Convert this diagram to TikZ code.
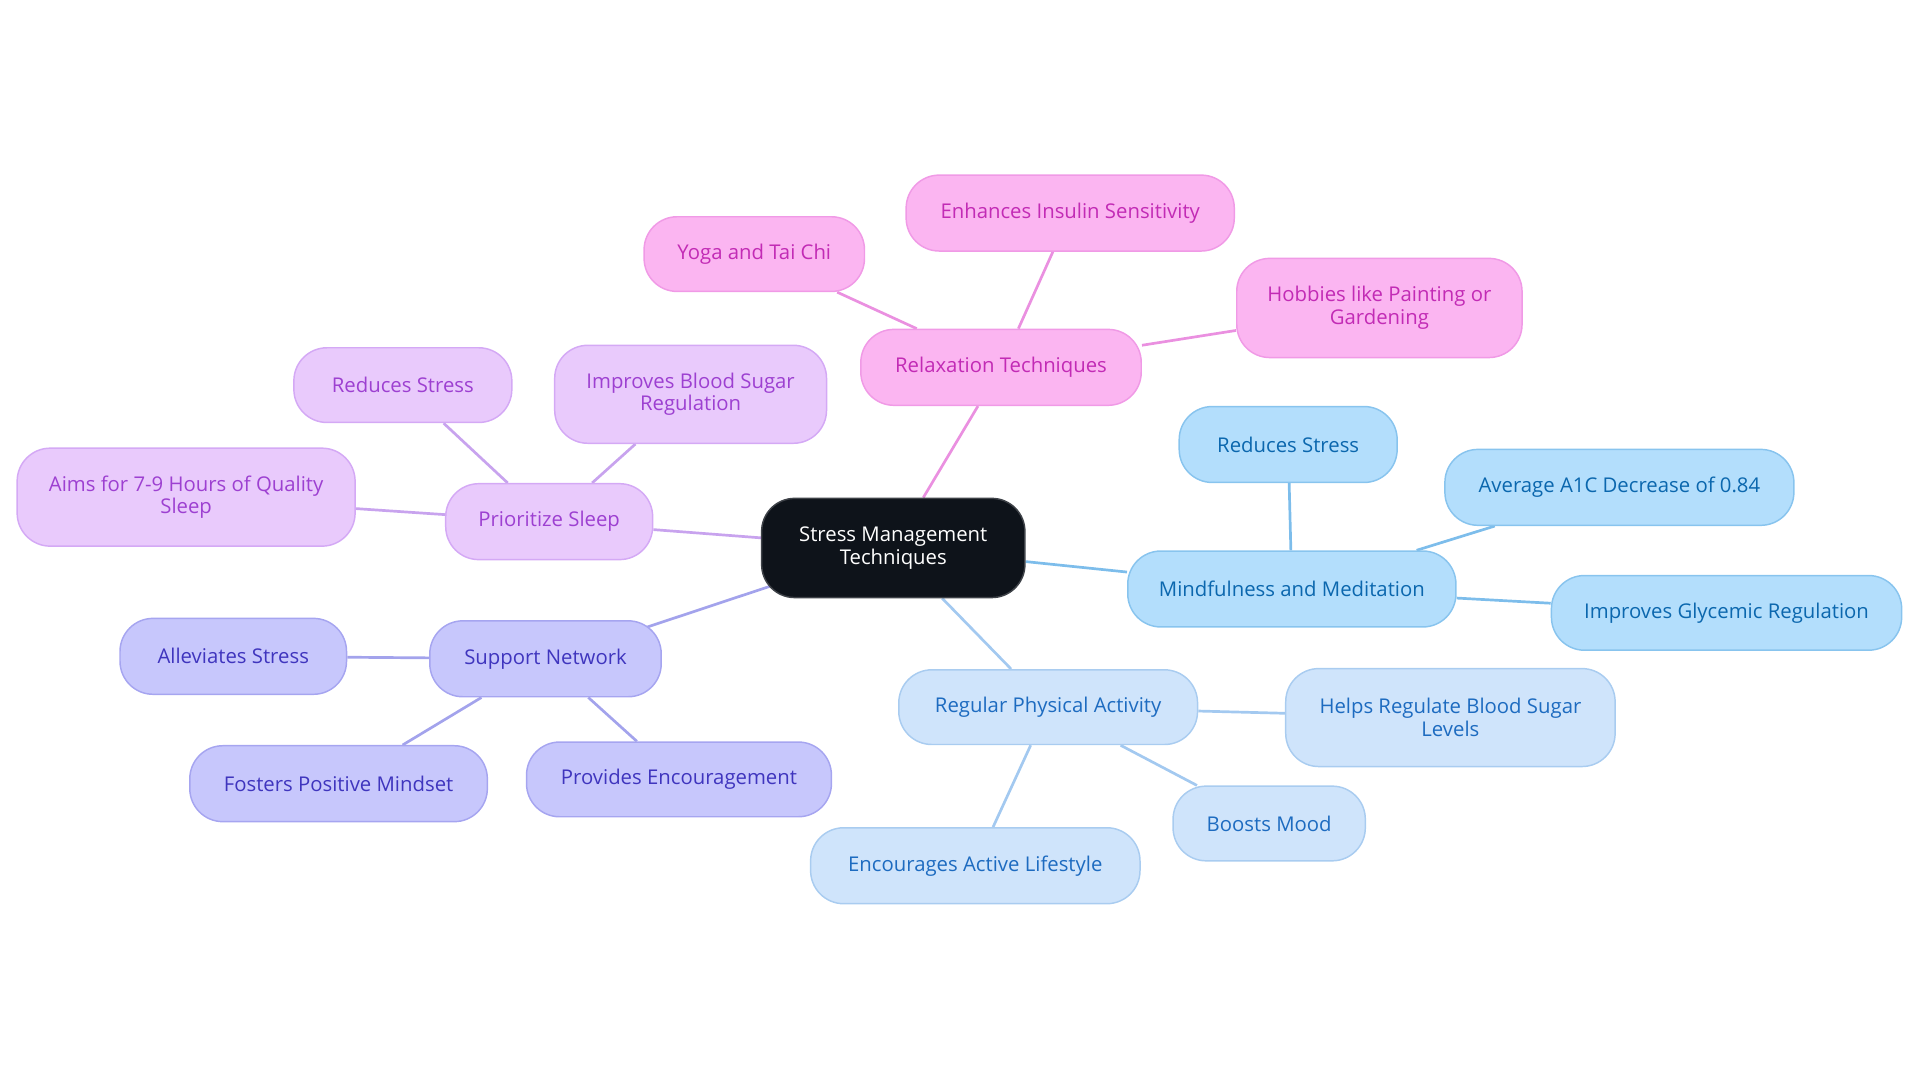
\documentclass[tikz,border=0pt]{standalone}
\usepackage{fontspec}
\setmainfont{Open Sans}
\usetikzlibrary{backgrounds}
\definecolor{pkF}{HTML}{FBB5F1}\definecolor{pkD}{HTML}{F09AE6}\definecolor{pkT}{HTML}{C22BB5}\definecolor{pkE}{HTML}{EA90E0}
\definecolor{puF}{HTML}{E9CAFC}\definecolor{puD}{HTML}{D4A9F5}\definecolor{puT}{HTML}{9D40D1}\definecolor{puE}{HTML}{C8A3EE}
\definecolor{inF}{HTML}{C7C7FC}\definecolor{inD}{HTML}{A6A5F0}\definecolor{inT}{HTML}{3F35BE}\definecolor{inE}{HTML}{A3A3EC}
\definecolor{blF}{HTML}{B3DEFC}\definecolor{blD}{HTML}{88C4EE}\definecolor{blT}{HTML}{0B67AE}\definecolor{blE}{HTML}{7DBDEB}
\definecolor{lbF}{HTML}{CFE4FB}\definecolor{lbD}{HTML}{A9CCF0}\definecolor{lbT}{HTML}{1D6BC0}\definecolor{lbE}{HTML}{A3C9F0}
\definecolor{ctF}{HTML}{0E131A}
\tikzset{
  sz/.style 2 args={minimum width=#1pt,minimum height=#2pt},
  mbox/.style={rectangle,rounded corners=27pt,inner sep=0pt,align=center,line width=1.2pt,
    font=\fontsize{16.6}{18.5}\selectfont},
  pkbox/.style={mbox,fill=pkF,draw=pkD,text=pkT},
  pubox/.style={mbox,fill=puF,draw=puD,text=puT},
  inbox/.style={mbox,fill=inF,draw=inD,text=inT},
  blbox/.style={mbox,fill=blF,draw=blD,text=blT},
  lbbox/.style={mbox,fill=lbF,draw=lbD,text=lbT},
  ctbox/.style={mbox,fill=ctF,draw=ctF!80!white,text=white},
  link/.style={line width=2.2pt},
}
\begin{document}
\begin{tikzpicture}[x=1pt,y=-1pt]
\useasboundingbox (0,0) rectangle (1568,884.4);
\node[ctbox,sz={215}{81}] (c) at (729.5,447.5) {Stress Management\\Techniques};
% relaxation
\node[pkbox,sz={229}{62}] (rel) at (817.5,300) {Relaxation Techniques};
\node[pkbox,sz={180}{61}] (yoga) at (616,207.5) {Yoga and Tai Chi};
\node[pkbox,sz={268}{62}] (enh) at (874,174) {Enhances Insulin Sensitivity};
\node[pkbox,sz={233}{81}] (hob) at (1126.5,251.5) {Hobbies like Painting or\\Gardening};
% sleep
\node[pubox,sz={169}{62}] (slp) at (448.5,426) {Prioritize Sleep};
\node[pubox,sz={178}{61}] (srs) at (329,314.5) {Reduces Stress};
\node[pubox,sz={222}{80}] (ibs) at (564,322) {Improves Blood Sugar\\Regulation};
\node[pubox,sz={276}{80}] (aims) at (152,406) {Aims for 7-9 Hours of Quality\\Sleep};
% support
\node[inbox,sz={189}{62}] (sup) at (445.5,538) {Support Network};
\node[inbox,sz={185}{62}] (all) at (190.5,536) {Alleviates Stress};
\node[inbox,sz={243}{62}] (fos) at (276.5,640) {Fosters Positive Mindset};
\node[inbox,sz={249}{61}] (pro) at (554.5,636.5) {Provides Encouragement};
% mindfulness
\node[blbox,sz={268}{62}] (mind) at (1055,481) {Mindfulness and Meditation};
\node[blbox,sz={178}{62}] (brs) at (1052,363) {Reduces Stress};
\node[blbox,sz={285}{62}] (a1c) at (1322.5,398) {Average A1C Decrease of 0.84};
\node[blbox,sz={286}{61}] (igr) at (1410,500.5) {Improves Glycemic Regulation};
% physical
\node[lbbox,sz={244}{61}] (rpa) at (856,577.5) {Regular Physical Activity};
\node[lbbox,sz={269}{80}] (hrb) at (1184.5,586) {Helps Regulate Blood Sugar\\Levels};
\node[lbbox,sz={157}{61}] (boo) at (1036.5,672.5) {Boosts Mood};
\node[lbbox,sz={269}{62}] (enc) at (796.5,707) {Encourages Active Lifestyle};
\begin{scope}[on background layer]
\draw[link,pkE] (c) -- (rel) (rel) -- (yoga) (rel) -- (enh) (rel) -- (hob);
\draw[link,puE] (c) -- (slp) (slp) -- (srs) (slp) -- (ibs) (slp) -- (aims);
\draw[link,inE] ([shift={(8,-10)}]c.south west) -- ([shift={(-13,6)}]sup.north east)
  (sup) -- (all) (sup) -- (fos) (sup) -- (pro);
\draw[link,blE] (c) -- (mind) (mind) -- (brs) (mind) -- (a1c) (mind) -- (igr);
\draw[link,lbE] (c) -- (rpa) (rpa) -- (hrb) (rpa) -- (boo) (rpa) -- (enc);
\end{scope}
\end{tikzpicture}
\end{document}
